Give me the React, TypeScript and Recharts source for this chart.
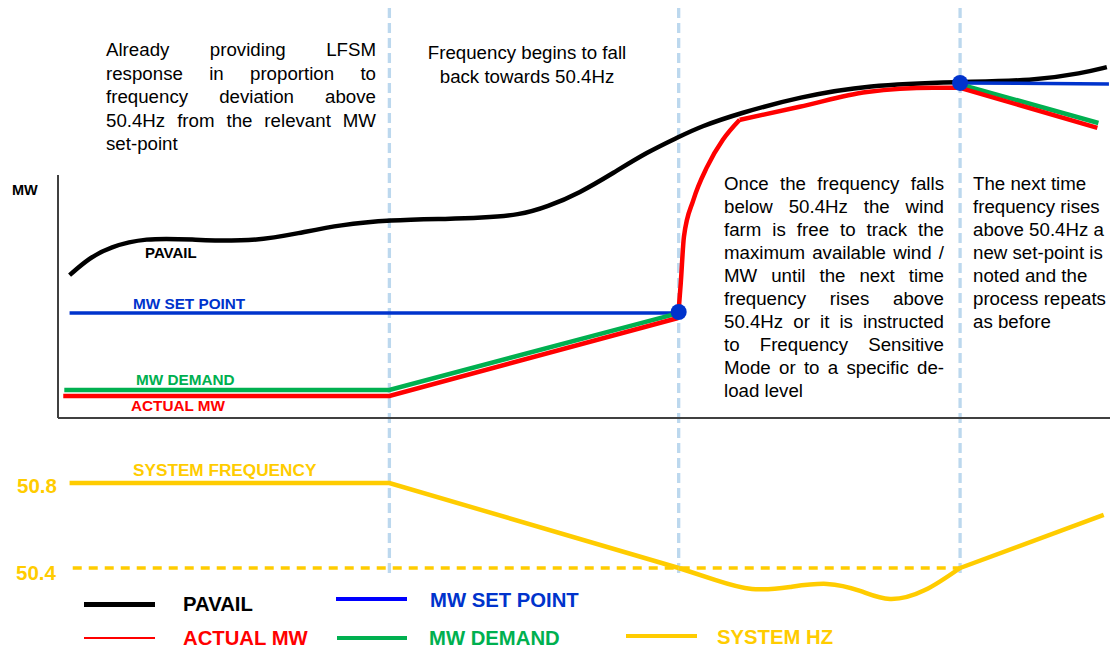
import { ComposedChart, Line, XAxis, YAxis, ReferenceLine } from 'recharts';

// x is a time index 0..100 across the plot, MW is in arbitrary units, frequency in Hz
const eventTimes = [31.5, 59, 85.75];

const pavailTime = [1.1, 3.0, 4.9, 8.3, 12.5, 18.3, 23.0, 26.8, 31.5, 37.3, 40.1, 43.9, 46.5, 49.6, 52.8, 56.0, 59.0, 61.0, 64.8, 70.5, 76.9, 85.75, 92.7, 97.4, 99.7];
const pavailMW = [40.7, 45.6, 48.7, 51.3, 50.9, 50.1, 52.7, 55.0, 56.4, 56.7, 57.0, 57.8, 60.1, 64.1, 69.8, 75.7, 80.0, 82.9, 86.8, 91.4, 94.8, 95.7, 96.0, 98.2, 99.9];

const setPointTime1 = [1.1, 59];
const setPointMW1 = [29.9, 29.9];
const setPointTime2 = [85.75, 99.9];
const setPointMW2 = [95.4, 95.1];

const demandTime1 = [0.6, 31.5, 59];
const demandMW1 = [8.0, 8.0, 29.9];
const demandTime2 = [85.75, 98.9];
const demandMW2 = [95.0, 84.0];

const actualRampTime = [0.5, 31.5, 58.94];
const actualRampMW = [6.3, 6.3, 28.5];
const actualRiseTime = [58.94, 59.2, 59.5, 60.4, 61.7, 63.2, 64.8];
const actualRiseMW = [28.5, 38.5, 51.6, 62.1, 71.5, 79.2, 84.9];
const actualTrackTime = [64.8, 70.5, 76.9, 83.2, 85.75];
const actualTrackMW = [84.9, 88.6, 92.8, 94.0, 94.0];
const actualDropTime = [85.75, 98.8];
const actualDropMW = [94.0, 82.6];

const newSetPointTime = [59, 85.75];
const newSetPointMW = [30.2, 95.4];

const hzRampTime = [1.1, 31.5, 59];
const hzRamp = [50.8, 50.8, 50.4];
const hzDipTime = [59, 62.45, 65.97, 69.58, 73.1, 76.24, 79.09, 82.41, 85.75];
const hzDip = [50.4, 50.344, 50.301, 50.311, 50.325, 50.292, 50.254, 50.296, 50.4];
const hzRiseTime = [85.75, 99.4];
const hzRise = [50.4, 50.65];

const thresholdHz = 50.4;

const note1 = ['Already providing LFSM', 'response in proportion to', 'frequency deviation above', '50.4Hz from the relevant MW', 'set-point'];
const note2 = ['Frequency begins to fall', 'back towards 50.4Hz'];
const note3 = ['Once the frequency falls', 'below 50.4Hz the wind', 'farm is free to track the', 'maximum available wind /', 'MW until the next time', 'frequency rises above', '50.4Hz or it is instructed', 'to Frequency Sensitive', 'Mode or to a specific de-', 'load level'];
const note4 = ['The next time', 'frequency rises', 'above 50.4Hz a', 'new set-point is', 'noted and the', 'process repeats', 'as before'];

const rows = (ts: number[], vs: number[], key = 'v') => ts.map((t, i) => ({ t, [key]: vs[i] }));

const FONT = '"Liberation Sans", Arial, sans-serif';
const BLACK = '#000000';
const BLUE = '#0033CC';
const GREEN = '#00B050';
const RED = '#FF0000';
const YELLOW = '#FFCC00';
const EVENT = '#BCD8EE';

function Tag({ x, base, size, color, bold = true, children }: any) {
  return (
    <div
      style={{
        position: 'absolute', left: x, top: base - 0.8465 * size, fontSize: size, lineHeight: `${size}px`,
        fontFamily: FONT, fontWeight: bold ? 700 : 400, color, whiteSpace: 'nowrap',
      }}
    >
      {children}
    </div>
  );
}

function Para({ lines, x, top, width, pitch, align }: any) {
  return (
    <div style={{ position: 'absolute', left: x, top, width, fontFamily: FONT, fontSize: 18.7, color: '#000' }}>
      {lines.map((l: string, i: number) => {
        const last = i === lines.length - 1;
        const a = align === 'justify' ? (last ? 'left' : 'justify') : align;
        return (
          <div key={i} style={{ height: pitch, lineHeight: `${pitch}px`, whiteSpace: 'nowrap', textAlign: a, textAlignLast: a as any }}>
            {l}
          </div>
        );
      })}
    </div>
  );
}

function Swatch({ x, y, w, h, color }: any) {
  return <div style={{ position: 'absolute', left: x, top: y - h / 2, width: w, height: h, background: color }} />;
}

export default function App() {
  return (
    <div style={{ position: 'relative', width: 1115, height: 650, background: '#fff', overflow: 'hidden' }}>
      <style>{'body{margin:0}'}</style>
      <ComposedChart width={1115} height={650} margin={{ top: 0, right: 5, bottom: 0, left: 58 }}>
        <XAxis dataKey="t" type="number" domain={[0, 100]} allowDataOverflow hide />
        <YAxis yAxisId="mw" type="number" domain={[-66, 119]} allowDataOverflow hide />
        <YAxis yAxisId="hz" type="number" domain={[50.0141, 53.0729]} allowDataOverflow hide />

        {eventTimes.map((t) => (
          <ReferenceLine
            key={t}
            yAxisId="hz"
            segment={[{ x: t, y: 53.035 }, { x: t, y: 50.36 }]}
            stroke={EVENT}
            strokeWidth={3.3}
            strokeDasharray="10 5"
          />
        ))}
        <ReferenceLine yAxisId="hz" segment={[{ x: 1.4, y: thresholdHz }, { x: 85.75, y: thresholdHz }]} stroke={YELLOW} strokeWidth={3.5} strokeDasharray="9 7" />
        <ReferenceLine yAxisId="mw" segment={[{ x: 0, y: 0 }, { x: 0, y: 69.2 }]} stroke="#404040" strokeWidth={2} />
        <ReferenceLine yAxisId="mw" segment={[{ x: 0, y: 0 }, { x: 100, y: 0 }]} stroke="#404040" strokeWidth={2} />

        <Line yAxisId="mw" data={rows(pavailTime, pavailMW)} dataKey="v" type="basis" stroke={BLACK} strokeWidth={4.5} dot={false} activeDot={false} isAnimationActive={false} />
        <Line yAxisId="mw" data={rows(setPointTime1, setPointMW1)} dataKey="v" type="linear" stroke={BLUE} strokeWidth={3.5} dot={false} activeDot={false} isAnimationActive={false} />
        <Line yAxisId="mw" data={rows(setPointTime2, setPointMW2)} dataKey="v" type="linear" stroke={BLUE} strokeWidth={3.5} dot={false} activeDot={false} isAnimationActive={false} />
        <Line yAxisId="mw" data={rows(demandTime1, demandMW1)} dataKey="v" type="linear" stroke={GREEN} strokeWidth={4.5} dot={false} activeDot={false} isAnimationActive={false} />
        <Line yAxisId="mw" data={rows(demandTime2, demandMW2)} dataKey="v" type="linear" stroke={GREEN} strokeWidth={4.5} dot={false} activeDot={false} isAnimationActive={false} />
        <Line yAxisId="mw" data={rows(actualRampTime, actualRampMW)} dataKey="v" type="linear" stroke={RED} strokeWidth={4.5} dot={false} activeDot={false} isAnimationActive={false} />
        <Line yAxisId="mw" data={rows(actualRiseTime, actualRiseMW)} dataKey="v" type="monotone" stroke={RED} strokeWidth={4.5} dot={false} activeDot={false} isAnimationActive={false} />
        <Line yAxisId="mw" data={rows(actualTrackTime, actualTrackMW)} dataKey="v" type="monotone" stroke={RED} strokeWidth={4.5} dot={false} activeDot={false} isAnimationActive={false} />
        <Line yAxisId="mw" data={rows(actualDropTime, actualDropMW)} dataKey="v" type="linear" stroke={RED} strokeWidth={4.5} dot={false} activeDot={false} isAnimationActive={false} />
        <Line yAxisId="mw" data={rows(newSetPointTime, newSetPointMW)} dataKey="v" stroke="none" dot={{ r: 8, fill: BLUE, stroke: 'none' }} activeDot={false} isAnimationActive={false} />

        <Line yAxisId="hz" data={rows(hzRampTime, hzRamp, 'hz')} dataKey="hz" type="linear" stroke={YELLOW} strokeWidth={4.5} dot={false} activeDot={false} isAnimationActive={false} />
        <Line yAxisId="hz" data={rows(hzDipTime, hzDip, 'hz')} dataKey="hz" type="natural" stroke={YELLOW} strokeWidth={4.5} dot={false} activeDot={false} isAnimationActive={false} />
        <Line yAxisId="hz" data={rows(hzRiseTime, hzRise, 'hz')} dataKey="hz" type="linear" stroke={YELLOW} strokeWidth={4.5} dot={false} activeDot={false} isAnimationActive={false} />
      </ComposedChart>

      <Para lines={note1} x={106} top={38} width={270} pitch={23.5} align="justify" />
      <Para lines={note2} x={420} top={41} width={214} pitch={23.5} align="center" />
      <Para lines={note3} x={724} top={171.7} width={220} pitch={23} align="justify" />
      <Para lines={note4} x={973} top={171.7} width={140} pitch={23} align="left" />

      <Tag x={12} base={195} size={14.5} color={BLACK}>MW</Tag>
      <Tag x={145} base={258} size={15} color={BLACK}>PAVAIL</Tag>
      <Tag x={133} base={309} size={15.3} color={BLUE}>MW SET POINT</Tag>
      <Tag x={136} base={385} size={15.3} color={GREEN}>MW DEMAND</Tag>
      <Tag x={131} base={411} size={15.3} color={RED}>ACTUAL MW</Tag>
      <Tag x={133} base={477} size={17.2} color={YELLOW}>SYSTEM FREQUENCY</Tag>
      <Tag x={17} base={493} size={20.5} color={YELLOW}>50.8</Tag>
      <Tag x={16} base={580} size={20.5} color={YELLOW}>50.4</Tag>

      <Swatch x={84} y={604} w={71} h={5} color={BLACK} />
      <Tag x={183} base={611} size={20.3} color={BLACK}>PAVAIL</Tag>
      <Swatch x={336} y={599} w={71} h={3.5} color="#0000FF" />
      <Tag x={430} base={607} size={20.3} color={BLUE}>MW SET POINT</Tag>
      <Swatch x={84} y={638} w={71} h={2.7} color={RED} />
      <Tag x={183} base={645} size={20.3} color={RED}>ACTUAL MW</Tag>
      <Swatch x={337} y={638} w={70} h={4} color={GREEN} />
      <Tag x={429} base={645} size={20.3} color={GREEN}>MW DEMAND</Tag>
      <Swatch x={626} y={636} w={71} h={3.5} color={YELLOW} />
      <Tag x={717} base={644} size={20.3} color={YELLOW}>SYSTEM HZ</Tag>
    </div>
  );
}
